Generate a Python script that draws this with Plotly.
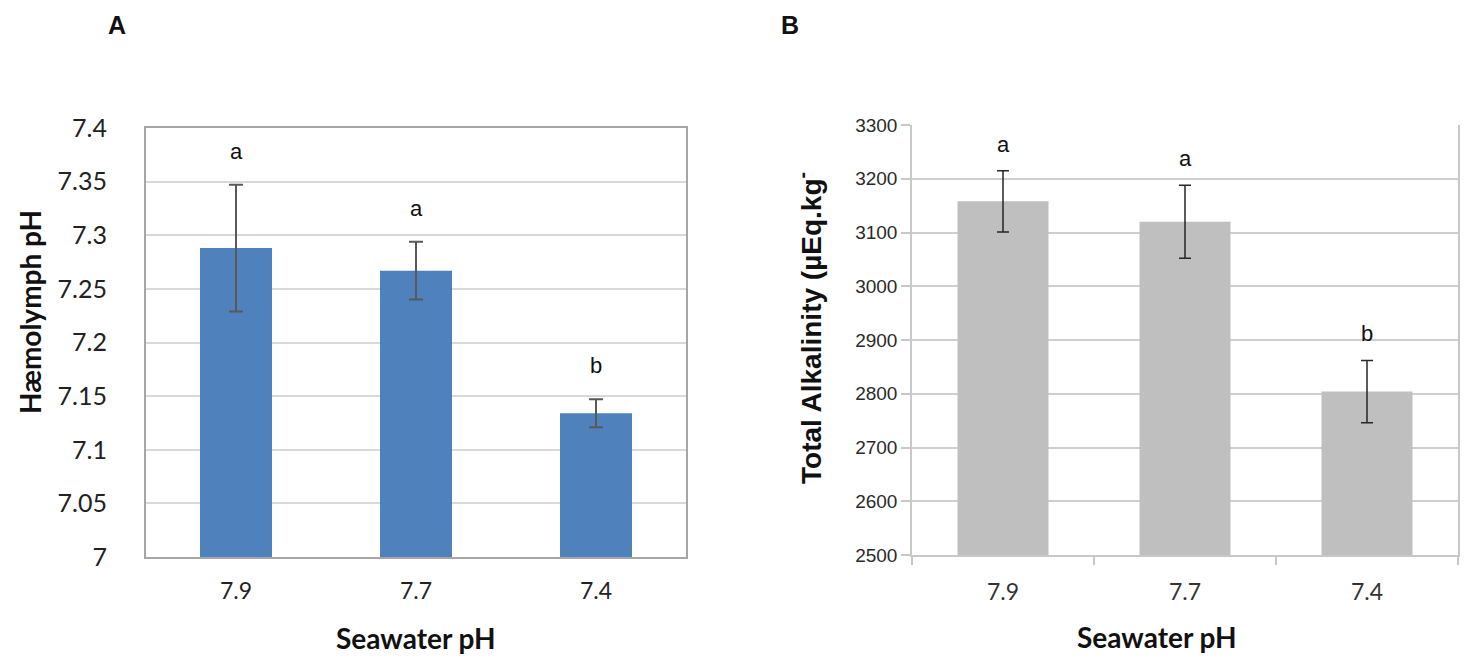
import plotly.graph_objects as go

# ---------------- data ----------------
categories = ["7.9", "7.7", "7.4"]

haemolymph_ph = [7.288, 7.267, 7.134]
haemolymph_err = [0.059, 0.027, 0.013]
haemolymph_letters = ["a", "a", "b"]

alkalinity = [3158, 3120, 2804]
alkalinity_err = [57, 68, 58]
alkalinity_letters = ["a", "a", "b"]

ph_ticks = [7.0, 7.05, 7.1, 7.15, 7.2, 7.25, 7.3, 7.35, 7.4]
ph_tick_labels = ["7", "7.05", "7.1", "7.15", "7.2", "7.25", "7.3", "7.35", "7.4"]
alk_ticks = [2500, 2600, 2700, 2800, 2900, 3000, 3100, 3200, 3300]
alk_tick_labels = [str(v) for v in alk_ticks]

W, H = 1470, 661


def px(x):
    return x / W


def py(y):
    return 1 - y / H


fig = go.Figure()

fig.add_trace(go.Bar(
    x=categories, y=haemolymph_ph, width=0.4,
    marker=dict(color="#4f81bd", line=dict(width=0)),
    error_y=dict(type="data", array=haemolymph_err, color="#595959",
                 thickness=2, width=7),
    xaxis="x", yaxis="y", showlegend=False, hoverinfo="x+y",
))

fig.add_trace(go.Bar(
    x=categories, y=alkalinity, width=0.5,
    marker=dict(color="#bfbfbf", line=dict(width=0)),
    error_y=dict(type="data", array=alkalinity_err, color="#262626",
                 thickness=1.5, width=6),
    xaxis="x2", yaxis="y2", showlegend=False, hoverinfo="x+y",
))

letter_font = dict(family="Liberation Sans, Arial", size=22, color="#111")
annotations = []
for i, (v, e, t) in enumerate(zip(haemolymph_ph, haemolymph_err, haemolymph_letters)):
    annotations.append(dict(x=i, y=v + e, xref="x", yref="y", text=t,
                            showarrow=False, xanchor="center", yanchor="bottom",
                            yshift=19, font=letter_font))
for i, (v, e, t) in enumerate(zip(alkalinity, alkalinity_err, alkalinity_letters)):
    annotations.append(dict(x=i, y=v + e, xref="x2", yref="y2", text=t,
                            showarrow=False, xanchor="center", yanchor="bottom",
                            yshift=12, font=letter_font))

title_font = dict(family="Lato, Open Sans, sans-serif", size=28, color="#111")


def paper_text(x, y, text, font, angle=0):
    return dict(x=px(x), y=py(y), xref="paper", yref="paper", text=text,
                textangle=angle, showarrow=False, xanchor="center",
                yanchor="middle", font=font)


panel_font = dict(family="Liberation Sans, Arial", size=25, color="#111")
annotations += [
    paper_text(117, 25, "<b>A</b>", panel_font),
    paper_text(790, 25, "<b>B</b>", panel_font),
    paper_text(30, 312, "<b>Hæmolymph pH</b>", title_font, -90),
    paper_text(416, 638, "<b>Seawater pH</b>", title_font),
    paper_text(1157, 637, "<b>Seawater pH</b>", title_font),
    paper_text(809, 328, "<b>Total Alkalinity (µEq.kg<sup>-</sup></b>",
               dict(family="Liberation Sans, Arial", size=28, color="#111"), -90),
]

fig.update_layout(
    width=W, height=H,
    margin=dict(l=0, r=0, t=0, b=0, autoexpand=False),
    paper_bgcolor="white", plot_bgcolor="white",
    annotations=annotations,
    xaxis=dict(domain=[px(146), px(686)], anchor="y", type="category",
               range=[-0.5, 2.5], automargin=False,
               showline=True, linecolor="#a6a6a6", linewidth=2, mirror=True,
               showgrid=False, ticks="", ticklabelstandoff=12,
               tickfont=dict(family="Lato, sans-serif", size=23, color="#222")),
    yaxis=dict(domain=[py(557), py(128)], anchor="x", range=[7.0, 7.4],
               automargin=False,
               tickvals=ph_ticks, ticktext=ph_tick_labels,
               showline=True, linecolor="#a6a6a6", linewidth=2, mirror=True,
               showgrid=True, gridcolor="#d9d9d9", gridwidth=2,
               zeroline=False, ticks="", ticklabelstandoff=32,
               tickfont=dict(family="Lato, sans-serif", size=25, color="#222")),
    xaxis2=dict(domain=[px(912), px(1458)], anchor="y2", type="category",
                range=[-0.5, 2.5], automargin=False,
                showline=True, linecolor="#c8c8c8", linewidth=1.5,
                showgrid=False, ticks="outside", tickson="boundaries",
                ticklen=8, tickcolor="#c8c8c8", tickwidth=1.5,
                ticklabelstandoff=16,
                tickfont=dict(family="Lato, sans-serif", size=23, color="#333")),
    yaxis2=dict(domain=[py(555), py(125)], anchor="x2", range=[2500, 3300],
                automargin=False,
                tickvals=alk_ticks, ticktext=alk_tick_labels,
                showline=True, linecolor="#c8c8c8", linewidth=1.5, mirror=True,
                showgrid=True, gridcolor="#cfcfcf", gridwidth=1.5,
                zeroline=False, ticks="outside", ticklen=9,
                tickcolor="#c8c8c8", tickwidth=1.5,
                tickfont=dict(family="Liberation Sans, Arial", size=19, color="#2a2a2a")),
)

fig.write_html(
    "out.html",
    config={"displayModeBar": False},
    post_script="document.body.style.margin='0';document.body.style.overflow='hidden';",
)
